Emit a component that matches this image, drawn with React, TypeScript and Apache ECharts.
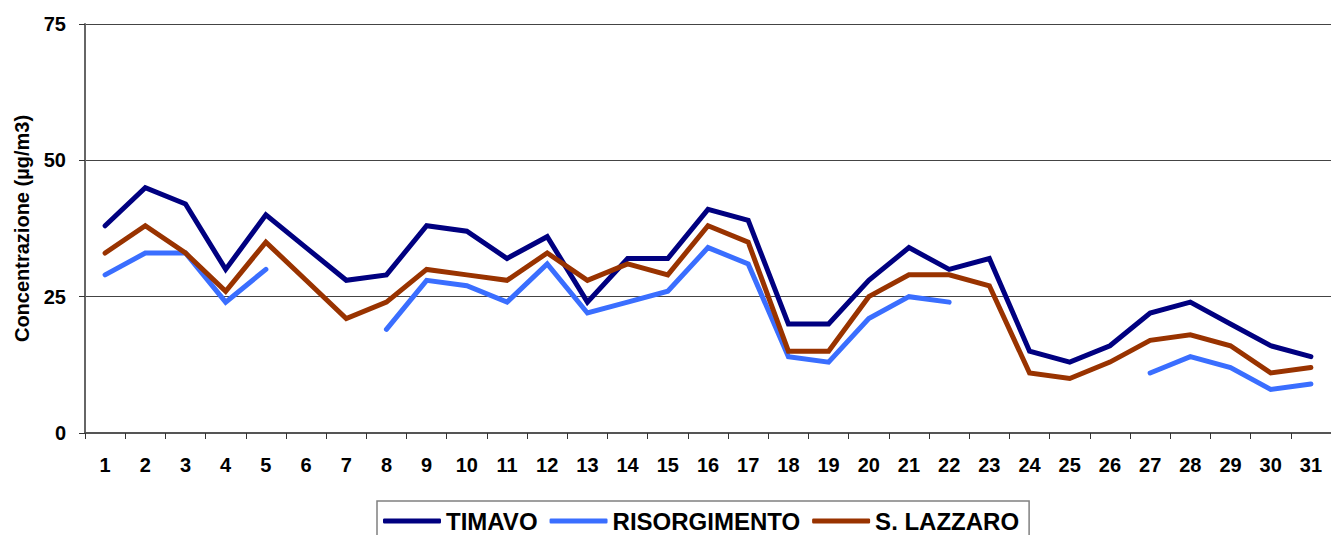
import React, { useEffect, useRef } from "react";
import * as echarts from "echarts";

const days = Array.from({ length: 31 }, (_, i) => String(i + 1));
const timavo = [38, 45, 42, 30, 40, 34, 28, 29, 38, 37, 32, 36, 24, 32, 32, 41, 39, 20, 20, 28, 34, 30, 32, 15, 13, 16, 22, 24, 20, 16, 14];
const risorgimento = [29, 33, 33, 24, 30, null, null, 19, 28, 27, 24, 31, 22, 24, 26, 34, 31, 14, 13, 21, 25, 24, null, null, null, null, 11, 14, 12, 8, 9];
const sLazzaro = [33, 38, 33, 26, 35, 28, 21, 24, 30, 29, 28, 33, 28, 31, 29, 38, 35, 15, 15, 25, 29, 29, 27, 11, 10, 13, 17, 18, 16, 11, 12];
const yTicks = { min: 0, max: 75, interval: 25 };

export default function App() {
  const ref = useRef<HTMLDivElement>(null);
  useEffect(() => {
    if (!ref.current) return;
    const chart = echarts.init(ref.current, null, { renderer: "svg" });
    const font = "Arial, 'Liberation Sans', sans-serif";
    const mk = (name: string, data: (number | null)[], color: string) => ({
      name,
      type: "line",
      data,
      symbol: "none",
      connectNulls: false,
      lineStyle: { color, width: 5, cap: "round", join: "miter" },
      itemStyle: { color },
    });
    chart.setOption({
      animation: false,
      backgroundColor: "#ffffff",
      grid: { left: 85, right: 0, top: 24, bottom: 102, containLabel: false, outerBoundsMode: "none" },
      legend: {
        left: 377,
        top: 501,
        icon: "roundRect",
        itemWidth: 58,
        itemHeight: 5,
        itemGap: 12,
        padding: [8, 10, 14, 6],
        borderColor: "#808080",
        borderWidth: 1.5,
        textStyle: { fontFamily: font, fontWeight: "bold", fontSize: 24, color: "#000" },
        data: ["TIMAVO", "RISORGIMENTO", "S. LAZZARO"],
      },
      xAxis: {
        type: "category",
        data: days,
        boundaryGap: true,
        axisLine: { lineStyle: { color: "#555", width: 2 } },
        axisTick: { show: true, length: 6, inside: false, lineStyle: { color: "#333" } },
        axisLabel: { fontFamily: font, fontWeight: "bold", fontSize: 20, color: "#000", margin: 22 },
      },
      yAxis: {
        type: "value",
        min: yTicks.min,
        max: yTicks.max,
        interval: yTicks.interval,
        name: "Concentrazione (µg/m3)",
        nameLocation: "middle",
        nameGap: 53,
        nameTextStyle: { fontFamily: font, fontWeight: "bold", fontSize: 20, color: "#000" },
        axisLine: { show: true, lineStyle: { color: "#666", width: 2 } },
        axisTick: { show: true, length: 6, lineStyle: { color: "#333" } },
        axisLabel: { fontFamily: font, fontWeight: "bold", fontSize: 20, color: "#000", margin: 19 },
        splitLine: { show: true, lineStyle: { color: "#444", width: 1 } },
      },
      series: [
        mk("TIMAVO", timavo, "#000080"),
        mk("RISORGIMENTO", risorgimento, "#3A6EFF"),
        mk("S. LAZZARO", sLazzaro, "#993300"),
      ],
    });
    return () => chart.dispose();
  }, []);
  return (
    <div
      ref={ref}
      style={{ position: "absolute", left: 0, top: 0, width: 1331, height: 535 }}
    />
  );
}
